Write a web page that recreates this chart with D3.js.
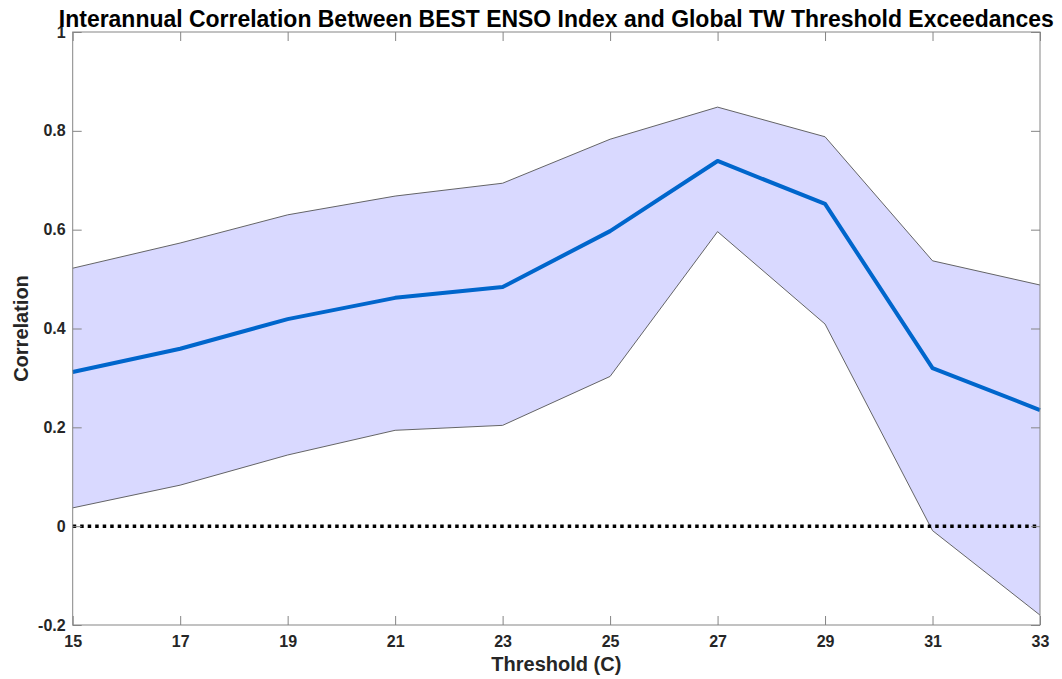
<!DOCTYPE html>
<html>
<head>
<meta charset="utf-8">
<script src="https://cdn.jsdelivr.net/npm/d3@7"></script>
<style>
  html, body { margin: 0; padding: 0; background: #fff; }
  svg { display: block; font-family: "Liberation Sans", Arial, sans-serif; }
</style>
</head>
<body>
<svg id="chart" width="1062" height="679"></svg>
<script>
// Thresholds (deg C) and correlation with 95% bounds
const thresholds = [15, 17, 19, 21, 23, 25, 27, 29, 31, 33];
const corrMean  = [0.312, 0.359, 0.419, 0.462, 0.484, 0.597, 0.739, 0.652, 0.320, 0.235];
const corrUpper = [0.522, 0.573, 0.630, 0.668, 0.694, 0.783, 0.848, 0.788, 0.537, 0.488];
const corrLower = [0.037, 0.083, 0.144, 0.194, 0.204, 0.303, 0.596, 0.409, -0.009, -0.180];
const xTicks = [15, 17, 19, 21, 23, 25, 27, 29, 31, 33];
const yTicks = [-0.2, 0, 0.2, 0.4, 0.6, 0.8, 1];

const svg = d3.select("#chart");
const plotL = 72.7, plotR = 1040, plotT = 32, plotB = 625;

const x = d3.scaleLinear().domain([15, 33]).range([plotL, plotR]);
const y = d3.scaleLinear().domain([-0.2, 1]).range([plotB, plotT]);

const pts = thresholds.map((t, i) => ({ t, m: corrMean[i], lo: corrLower[i], hi: corrUpper[i] }));

// confidence band
svg.append("path")
  .datum(pts)
  .attr("fill", "#d9d9ff")
  .attr("stroke", "none")
  .attr("d", d3.area().x(d => x(d.t)).y0(d => y(d.lo)).y1(d => y(d.hi)));

// band edges
["hi", "lo"].forEach(k => {
  svg.append("path")
    .datum(pts)
    .attr("fill", "none")
    .attr("stroke", "#555")
    .attr("stroke-width", 0.9)
    .attr("d", d3.line().x(d => x(d.t)).y(d => y(d[k])));
});

// zero reference line
svg.append("line")
  .attr("x1", x(15)).attr("x2", x(33))
  .attr("y1", y(0)).attr("y2", y(0))
  .attr("stroke", "#000")
  .attr("stroke-width", 3.5)
  .attr("stroke-dasharray", "3.5,4");

// mean correlation
svg.append("path")
  .datum(pts)
  .attr("fill", "none")
  .attr("stroke", "#0066cc")
  .attr("stroke-width", 4)
  .attr("stroke-linejoin", "round")
  .attr("d", d3.line().x(d => x(d.t)).y(d => y(d.m)));

// axes box with inward ticks
const axisColor = "#858585";
const tickLen = 9;
function styleAxis(g) {
  g.selectAll(".domain").remove();
  g.selectAll(".tick line").attr("stroke", axisColor).attr("stroke-width", 1);
  g.selectAll(".tick text")
    .attr("fill", "#262626")
    .style("font-size", "16px")
    .style("font-weight", "bold");
}

const yFmt = d => (+d.toFixed(1)).toString();

const xb = svg.append("g").attr("transform", `translate(0,${plotB})`)
  .call(d3.axisBottom(x).tickValues(xTicks).tickFormat(d3.format("d")).tickSizeInner(-tickLen).tickSizeOuter(0).tickPadding(11));
styleAxis(xb);
const xt = svg.append("g").attr("transform", `translate(0,${plotT})`)
  .call(d3.axisTop(x).tickValues(xTicks).tickFormat("").tickSizeInner(-tickLen).tickSizeOuter(0));
styleAxis(xt);
const yl = svg.append("g").attr("transform", `translate(${plotL},0)`)
  .call(d3.axisLeft(y).tickValues(yTicks).tickFormat(yFmt).tickSizeInner(-tickLen).tickSizeOuter(0).tickPadding(7));
styleAxis(yl);
const yr = svg.append("g").attr("transform", `translate(${plotR},0)`)
  .call(d3.axisRight(y).tickValues(yTicks).tickFormat("").tickSizeInner(-tickLen).tickSizeOuter(0));
styleAxis(yr);

svg.append("rect")
  .attr("x", plotL).attr("y", plotT)
  .attr("width", plotR - plotL).attr("height", plotB - plotT)
  .attr("fill", "none")
  .attr("stroke", axisColor)
  .attr("stroke-width", 1);

// titles
svg.append("text")
  .attr("x", (plotL + plotR) / 2).attr("y", 27)
  .attr("text-anchor", "middle")
  .attr("textLength", 995).attr("lengthAdjust", "spacingAndGlyphs")
  .style("font-size", "23px").style("font-weight", "bold")
  .attr("fill", "#000")
  .text("Interannual Correlation Between BEST ENSO Index and Global TW Threshold Exceedances");

svg.append("text")
  .attr("x", (plotL + plotR) / 2).attr("y", 671)
  .attr("text-anchor", "middle")
  .style("font-size", "20px").style("font-weight", "bold")
  .attr("fill", "#262626")
  .text("Threshold (C)");

svg.append("text")
  .attr("transform", `translate(28,${(plotT + plotB) / 2}) rotate(-90)`)
  .attr("text-anchor", "middle")
  .style("font-size", "20px").style("font-weight", "bold")
  .attr("fill", "#262626")
  .text("Correlation");
</script>
</body>
</html>
